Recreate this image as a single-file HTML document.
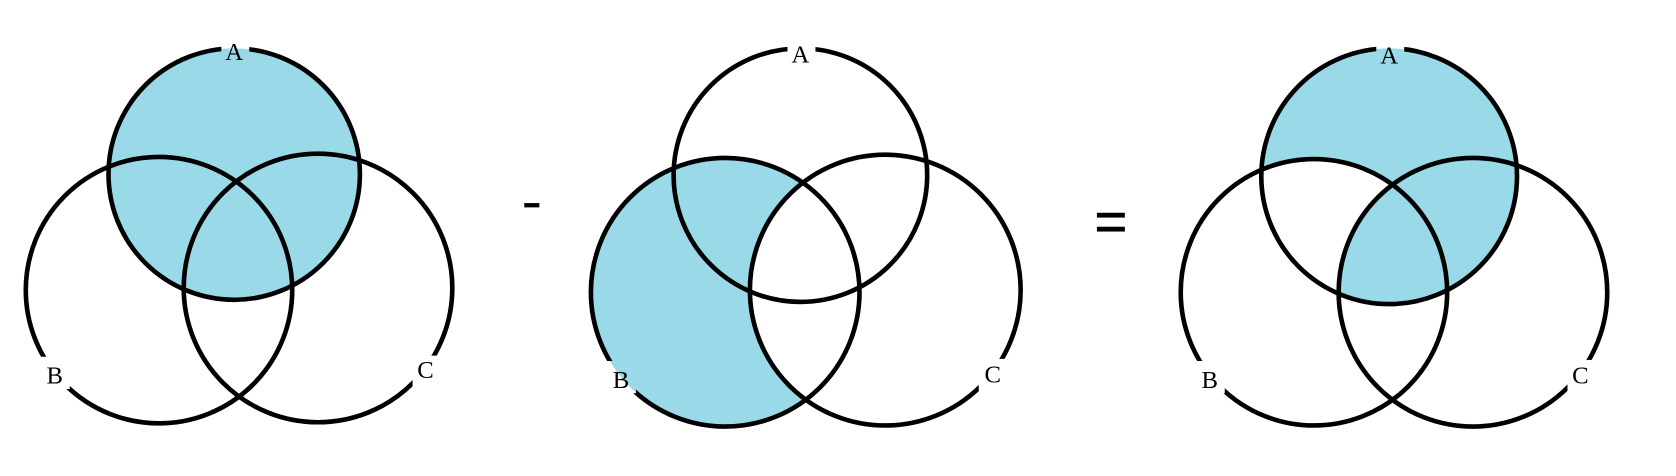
<!DOCTYPE html>
<html><head><meta charset="utf-8"><style>
html,body{margin:0;padding:0;background:#fff;}
svg{display:block;}
text{font-family:"Liberation Serif",serif;font-size:23px;fill:#000;}
</style></head><body>
<svg id="chart" width="1676" height="476" viewBox="0 0 1560 443" xmlns="http://www.w3.org/2000/svg">
<defs>
  <clipPath id="clipA3"><circle cx="1293" cy="164" r="119"/></clipPath>
  <clipPath id="clipB3"><circle cx="1223" cy="272" r="124"/></clipPath>
  <mask id="notB3" maskUnits="userSpaceOnUse" x="0" y="0" width="1560" height="443">
    <rect x="0" y="0" width="1560" height="443" fill="#fff"/>
    <circle cx="1223" cy="272" r="124" fill="#000"/>
  </mask>
  <mask id="notC2" maskUnits="userSpaceOnUse" x="0" y="0" width="1560" height="443">
    <rect x="0" y="0" width="1560" height="443" fill="#fff"/>
    <circle cx="824" cy="270" r="126" fill="#000"/>
  </mask>
  <mask id="gaps" maskUnits="userSpaceOnUse" x="0" y="0" width="1560" height="443">
    <rect x="0" y="0" width="1560" height="443" fill="#fff"/>
    <rect x="206" y="36" width="26" height="22" fill="#000"/>
    <rect x="38" y="332" width="27" height="30" fill="#000"/>
    <rect x="384" y="331" width="27" height="30" fill="#000"/>
    <rect x="733" y="36" width="26" height="22" fill="#000"/>
    <rect x="565" y="336" width="27" height="30" fill="#000"/>
    <rect x="911" y="334" width="27" height="30" fill="#000"/>
    <rect x="1281" y="37" width="26" height="22" fill="#000"/>
    <rect x="1113" y="336" width="27" height="30" fill="#000"/>
    <rect x="1459" y="335" width="27" height="30" fill="#000"/>
  </mask>
</defs>

<g>
  <circle cx="218" cy="162" r="117" fill="#9ad9e8"/>
  <g mask="url(#gaps)" fill="none" stroke="#000" stroke-width="4.3">
    <circle cx="218" cy="162" r="117"/>
    <circle cx="148" cy="270" r="124"/>
    <circle cx="296" cy="268" r="125"/>
  </g>
  <text x="218" y="56" text-anchor="middle">A</text>
  <text x="51" y="357" text-anchor="middle">B</text>
  <text x="396" y="352" text-anchor="middle">C</text>
</g>

<rect x="488" y="189" width="14" height="4" fill="#000"/>

<g>
  <circle cx="675" cy="272" r="125" fill="#9ad9e8" mask="url(#notC2)"/>
  <g mask="url(#gaps)" fill="none" stroke="#000" stroke-width="4.3">
    <circle cx="745" cy="163" r="118"/>
    <circle cx="675" cy="272" r="125"/>
    <circle cx="824" cy="270" r="126"/>
  </g>
  <text x="745" y="58" text-anchor="middle">A</text>
  <text x="578" y="361" text-anchor="middle">B</text>
  <text x="924" y="356" text-anchor="middle">C</text>
</g>

<g>
  <rect x="1021" y="198" width="26" height="4.5" fill="#000"/>
  <rect x="1021" y="211" width="26" height="4.5" fill="#000"/>
</g>

<g>
  <circle cx="1293" cy="164" r="119" fill="#9ad9e8" mask="url(#notB3)"/>
  <g clip-path="url(#clipA3)">
    <g clip-path="url(#clipB3)">
      <circle cx="1371" cy="272" r="125" fill="#9ad9e8"/>
    </g>
  </g>
  <g mask="url(#gaps)" fill="none" stroke="#000" stroke-width="4.3">
    <circle cx="1293" cy="164" r="119"/>
    <circle cx="1223" cy="272" r="124"/>
    <circle cx="1371" cy="272" r="125"/>
  </g>
  <text x="1293" y="59" text-anchor="middle">A</text>
  <text x="1126" y="361" text-anchor="middle">B</text>
  <text x="1471" y="357" text-anchor="middle">C</text>
</g>
</svg>
</body></html>
